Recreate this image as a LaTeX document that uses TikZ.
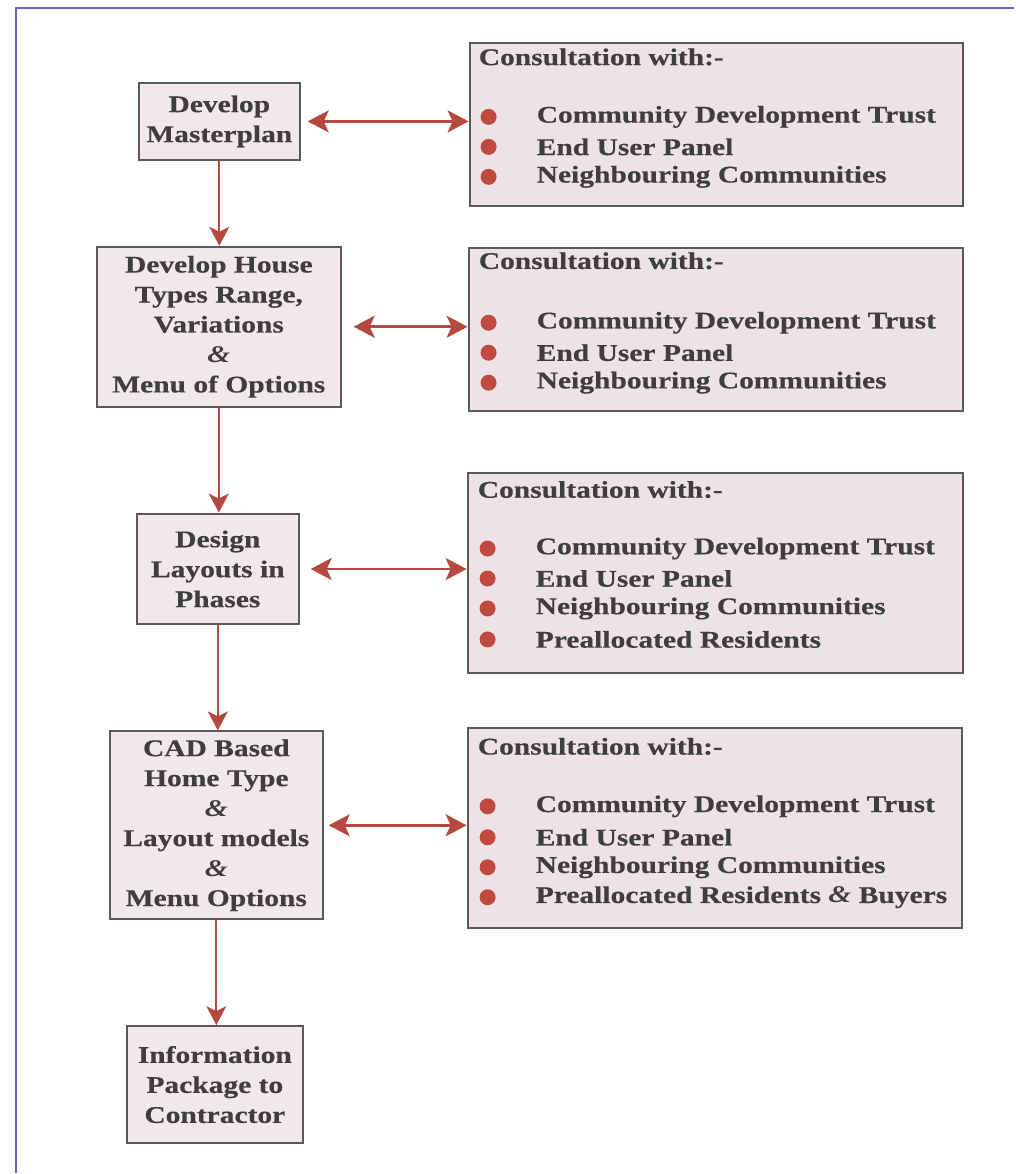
\documentclass[tikz,border=0pt]{standalone}
\usepackage{fontspec}
\setmainfont{Liberation Serif}[FakeStretch=1.23, BoldFeatures={FakeBold=0.35}]
\usetikzlibrary{arrows.meta}
\definecolor{arr}{HTML}{B5483F}
\definecolor{frm}{HTML}{6E5FD0}
\definecolor{bfill}{HTML}{EFE8EC}
\definecolor{rfill}{HTML}{EDE3E6}
\definecolor{bdr}{HTML}{5A5A5A}
\definecolor{txt}{HTML}{3E3E3E}
\definecolor{dotc}{HTML}{C04A3E}
\begin{document}
\begin{tikzpicture}[x=1pt,y=-1pt,
  lbox/.style={draw=bdr, line width=2pt, fill=bfill, align=center, text=txt,
    font=\bfseries\fontsize{24}{30}\selectfont, inner sep=0pt},
  rbox/.style={draw=bdr, line width=2pt, fill=rfill, anchor=north west, inner sep=0pt},
  rtxt/.style={anchor=west, text=txt, font=\bfseries\fontsize{24}{30}\selectfont, inner sep=0pt},
  bul/.style={circle, fill=dotc, inner sep=0pt, minimum size=16pt},
  flow/.style={draw=arr, line width=2pt, -{Stealth[length=19pt,width=20pt,inset=5pt]}},
  link/.style={draw=arr, line width=2.5pt, {Stealth[length=21pt,width=22pt,inset=5pt]}-{Stealth[length=21pt,width=22pt,inset=5pt]}},
]
\fill[white] (0,0) rectangle (1015,1174);
\draw[frm, line width=2pt] (16,1174) -- (16,8) -- (1015,8);

% left column
\node[lbox, minimum width=161pt, minimum height=77pt] (b1) at (219.5,121.5) {Develop\\Masterplan};
\node[lbox, minimum width=244pt, minimum height=160pt] (b2) at (219,327) {Develop House\\Types Range,\\Variations\\\textit{\&}\\Menu of Options};
\node[lbox, minimum width=162pt, minimum height=111pt] (b3) at (218,569.5) {Design\\Layouts in\\Phases};
\node[lbox, minimum width=213pt, minimum height=188pt] (b4) at (216.5,826) {CAD Based\\Home Type\\\textit{\&}\\Layout models\\\textit{\&}\\Menu Options};
\node[lbox, minimum width=176pt, minimum height=117pt] (b5) at (215,1085.5) {Information\\Package to\\Contractor};

% right column
\node[rbox, minimum width=494pt, minimum height=163pt] (r1) at (469,42) {};
\node[rbox, minimum width=495pt, minimum height=163pt] (r2) at (468,247) {};
\node[rbox, minimum width=496pt, minimum height=201pt] (r3) at (467,472) {};
\node[rbox, minimum width=495pt, minimum height=200pt] (r4) at (467,728) {};

% box r1
\node[rtxt] (t1) at (479,57) {Consultation with:-};
\node[bul] (d11) at (489,117) {};
\node[bul] (d12) at (489,147) {};
\node[bul] (d13) at (489,177) {};
\node[rtxt] (i11) at (537,117) {Community Development Trust};
\node[rtxt] (i12) at (537,147) {End User Panel};
\node[rtxt] (i13) at (537,177) {Neighbouring Communities};

% box r2
\node[rtxt] (t2) at (479,261) {Consultation with:-};
\node[bul] (d21) at (489,323) {};
\node[bul] (d22) at (489,353) {};
\node[bul] (d23) at (489,383) {};
\node[rtxt] (i21) at (537,323) {Community Development Trust};
\node[rtxt] (i22) at (537,353) {End User Panel};
\node[rtxt] (i23) at (537,383) {Neighbouring Communities};

% box r3
\node[rtxt] (t3) at (478,490) {Consultation with:-};
\node[bul] (d31) at (488,549) {};
\node[bul] (d32) at (488,579) {};
\node[bul] (d33) at (488,609) {};
\node[bul] (d34) at (488,640) {};
\node[rtxt] (i31) at (536,549) {Community Development Trust};
\node[rtxt] (i32) at (536,579) {End User Panel};
\node[rtxt] (i33) at (536,609) {Neighbouring Communities};
\node[rtxt] (i34) at (536,640) {Preallocated Residents};

% box r4
\node[rtxt] (t4) at (478,747) {Consultation with:-};
\node[bul] (d41) at (488,807) {};
\node[bul] (d42) at (488,838) {};
\node[bul] (d43) at (488,868) {};
\node[bul] (d44) at (488,898) {};
\node[rtxt] (i41) at (536,807) {Community Development Trust};
\node[rtxt] (i42) at (536,838) {End User Panel};
\node[rtxt] (i43) at (536,868) {Neighbouring Communities};
\node[rtxt] (i44) at (536,898) {Preallocated Residents \textit{\&} Buyers};

% vertical flow
\draw[flow] (b1.south) -- (b1.south |- b2.north);
\draw[flow] (b2.south) -- (b2.south |- b3.north);
\draw[flow] (b3.south) -- (b3.south |- b4.north);
\draw[flow] (b4.south) -- (b4.south |- b5.north);

% consultation links
\draw[link, shorten <=7pt] (b1.east) -- (b1.east -| r1.west);
\draw[link, shorten <=12pt] (b2.east) -- (b2.east -| r2.west);
\draw[link, shorten <=11pt] (b3.east) -- (b3.east -| r3.west);
\draw[link, shorten <=5pt] (b4.east) -- (b4.east -| r4.west);
\end{tikzpicture}
\end{document}
